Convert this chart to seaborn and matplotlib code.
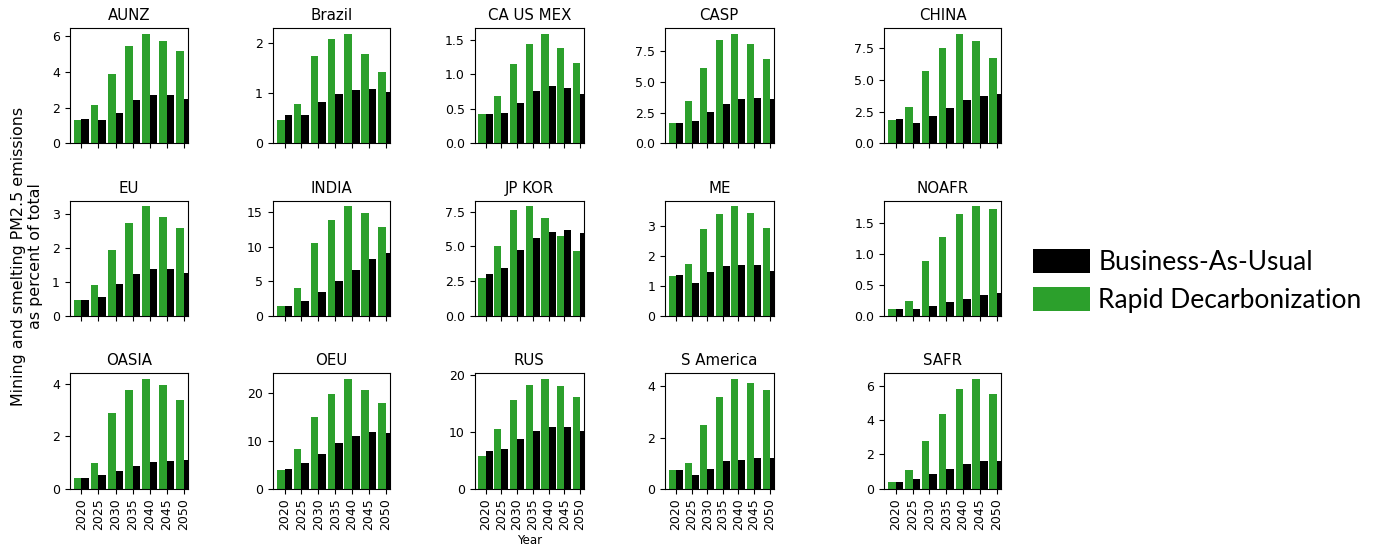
import pandas as pd
import matplotlib.pyplot as plt
import seaborn as sns
from matplotlib.patches import Patch

# Data (percent of total PM2.5 emissions)
years = [2020, 2025, 2030, 2035, 2040, 2045, 2050]
regions = ['AUNZ', 'Brazil', 'CA US MEX', 'CASP', 'CHINA',
           'EU', 'INDIA', 'JP KOR', 'ME', 'NOAFR',
           'OASIA', 'OEU', 'RUS', 'S America', 'SAFR']

rd_aunz = [1.31, 2.13, 3.89, 5.44, 6.15, 5.74, 5.18]
bau_aunz = [1.38, 1.31, 1.68, 2.45, 2.71, 2.71, 2.50]
rd_brazil = [0.46, 0.79, 1.74, 2.07, 2.18, 1.78, 1.41]
bau_brazil = [0.56, 0.57, 0.83, 0.99, 1.07, 1.08, 1.03]
rd_causmex = [0.43, 0.68, 1.15, 1.44, 1.59, 1.38, 1.16]
bau_causmex = [0.43, 0.44, 0.59, 0.76, 0.83, 0.80, 0.72]
rd_casp = [1.62, 3.40, 6.09, 8.36, 8.89, 8.06, 6.82]
bau_casp = [1.62, 1.83, 2.53, 3.15, 3.56, 3.69, 3.56]
rd_china = [1.83, 2.85, 5.68, 7.54, 8.64, 8.04, 6.75]
bau_china = [1.94, 1.62, 2.15, 2.80, 3.38, 3.72, 3.87]
rd_eu = [0.46, 0.90, 1.93, 2.73, 3.22, 2.91, 2.59]
bau_eu = [0.46, 0.56, 0.93, 1.22, 1.39, 1.39, 1.27]
rd_india = [1.39, 3.94, 10.5, 13.8, 15.8, 14.9, 12.9]
bau_india = [1.39, 2.16, 3.41, 4.95, 6.68, 8.22, 9.04]
rd_jpkor = [2.69, 5.02, 7.60, 7.88, 7.07, 5.75, 4.69]
bau_jpkor = [3.03, 3.44, 4.76, 5.63, 6.01, 6.15, 6.00]
rd_me = [1.33, 1.73, 2.90, 3.42, 3.67, 3.44, 2.93]
bau_me = [1.36, 1.11, 1.48, 1.67, 1.71, 1.71, 1.49]
rd_noafr = [0.10, 0.24, 0.88, 1.27, 1.64, 1.76, 1.72]
bau_noafr = [0.10, 0.10, 0.15, 0.22, 0.27, 0.34, 0.37]
rd_oasia = [0.39, 0.99, 2.89, 3.77, 4.19, 3.95, 3.39]
bau_oasia = [0.39, 0.51, 0.68, 0.87, 1.01, 1.07, 1.11]
rd_oeu = [3.9, 8.4, 15.0, 19.8, 23.0, 20.7, 18.0]
bau_oeu = [4.06, 5.3, 7.27, 9.5, 11.1, 11.8, 11.6]
rd_rus = [5.7, 10.4, 15.6, 18.2, 19.3, 18.0, 16.1]
bau_rus = [6.65, 7.0, 8.76, 10.06, 10.9, 10.9, 10.06]
rd_samerica = [0.75, 1.0, 2.5, 3.6, 4.3, 4.15, 3.85]
bau_samerica = [0.75, 0.55, 0.78, 1.07, 1.13, 1.2, 1.2]
rd_safr = [0.37, 1.07, 2.77, 4.37, 5.79, 6.39, 5.50]
bau_safr = [0.37, 0.55, 0.88, 1.15, 1.46, 1.62, 1.62]

rapid = [rd_aunz, rd_brazil, rd_causmex, rd_casp, rd_china,
         rd_eu, rd_india, rd_jpkor, rd_me, rd_noafr,
         rd_oasia, rd_oeu, rd_rus, rd_samerica, rd_safr]
business = [bau_aunz, bau_brazil, bau_causmex, bau_casp, bau_china,
            bau_eu, bau_india, bau_jpkor, bau_me, bau_noafr,
            bau_oasia, bau_oeu, bau_rus, bau_samerica, bau_safr]

RD = 'Rapid Decarbonization'
BAU = 'Business-As-Usual'
green = '#2ca02c'

rows = []
for region, rd, bau in zip(regions, rapid, business):
    for yr, v in zip(years, rd):
        rows.append((region, yr, RD, v))
    for yr, v in zip(years, bau):
        rows.append((region, yr, BAU, v))
df = pd.DataFrame(rows, columns=['region', 'year', 'scenario', 'value'])

W, H = 1374, 551
fig = plt.figure(figsize=(W / 100, H / 100), dpi=100)

# axes edges in pixels (the reference columns are not all the same width)
col_px = [(69.5, 188), (272.7, 390), (474.5, 584), (665, 773.5), (884, 1001)]
row_px = [(28.3, 143.3), (201, 315.7), (373.3, 488.7)]

for i, region in enumerate(regions):
    r, c = divmod(i, 5)
    x0, x1 = col_px[c]
    y0, y1 = row_px[r]
    ax = fig.add_axes([x0 / W, 1 - y1 / H, (x1 - x0) / W, (y1 - y0) / H])
    sns.barplot(data=df[df.region == region], x='year', y='value',
                hue='scenario', hue_order=[RD, BAU], palette=[green, 'black'],
                width=0.9, saturation=1, errorbar=None, linewidth=0,
                legend=False, ax=ax)
    ax.set_xlim(-0.7, len(years) - 0.75)
    ax.set_title(region, fontsize=10.8)
    ax.set_xlabel('')
    ax.set_ylabel('')
    ax.tick_params(labelsize=9)
    if r < 2:
        ax.tick_params(axis='x', labelbottom=False)
    else:
        ax.tick_params(axis='x', labelrotation=90)
    if region == 'RUS':
        ax.set_xlabel('Year', fontsize=8.5, labelpad=3)

fig.text(27 / W, 1 - 256 / H,
         'Mining and smelting PM2.5 emissions\nas percent of total',
         rotation=90, ha='center', va='center', multialignment='center',
         fontsize=11.4)

handles = [Patch(facecolor='black', edgecolor='none', label=BAU),
           Patch(facecolor=green, edgecolor='none', label=RD)]
fig.legend(handles=handles, loc='center left',
           bbox_to_anchor=(1033 / W, 1 - 281 / H), frameon=False,
           borderpad=0, borderaxespad=0, handlelength=2.15, handleheight=1.05,
           handletextpad=0.33, labelspacing=0.45,
           prop={'family': 'Lato', 'size': 19})

fig.savefig('out.png', dpi=100)
